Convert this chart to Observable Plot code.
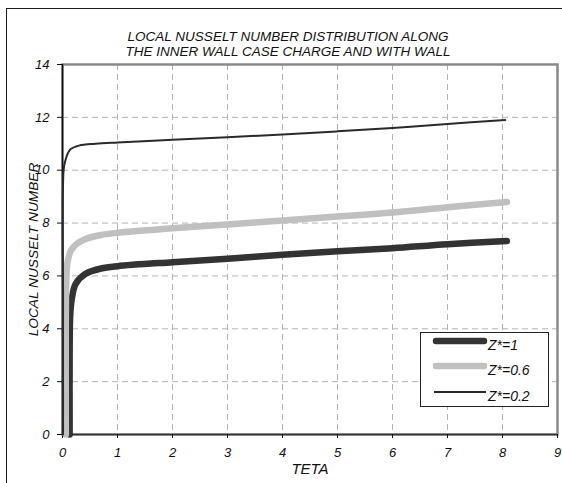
<!DOCTYPE html>
<html><head><meta charset="utf-8">
<script src="https://cdn.jsdelivr.net/npm/d3@7"></script>
<script src="https://cdn.jsdelivr.net/npm/@observablehq/plot@0.6"></script>
<style>
body{margin:0;background:#fff;overflow:hidden;}
#wrap{position:relative;width:562px;height:483px;overflow:hidden;font-family:"Liberation Sans",Arial,sans-serif;background:#fff;}
#frame{position:absolute;left:6px;top:8px;width:700px;height:700px;border:1px solid #1a1a1a;pointer-events:none;}
#chart{position:absolute;left:0;top:0;}
#legend{position:absolute;left:420px;top:332px;width:127px;height:73px;border:1px solid #222;background:#fff;}
#legend svg{position:absolute;left:0;top:0;}
</style></head>
<body>
<div id="wrap"><div id="frame"></div><div id="chart"></div><div id="legend"></div></div>
<script>
const titleLines = ["LOCAL NUSSELT NUMBER DISTRIBUTION ALONG", "THE INNER WALL CASE CHARGE AND WITH WALL"];
const xLabel = "TETA";
const yLabel = "LOCAL NUSSELT NUMBER";
const xTicks = [0,1,2,3,4,5,6,7,8,9];
const yTicks = [0,2,4,6,8,10,12,14];
const seriesNames = ["Z*=1", "Z*=0.6", "Z*=0.2"];
const seriesColors = ["#333333", "#c0c0c0", "#2a2a2a"];
const seriesWidths = [6.5, 6.5, 2];

const tetaZ1 = [0.13, 0.13, 0.14, 0.17, 0.24, 0.42, 0.7, 1, 2, 3, 4, 5, 6, 7, 8.08];
const nuZ1   = [0, 3.0, 4.5, 5.15, 5.7, 6.08, 6.28, 6.37, 6.52, 6.65, 6.8, 6.93, 7.05, 7.2, 7.32];

const tetaZ06 = [0.06, 0.06, 0.07, 0.09, 0.15, 0.25, 0.42, 0.7, 1, 2, 3, 4, 5, 6, 7, 8.08];
const nuZ06   = [0, 4.0, 5.9, 6.5, 6.95, 7.2, 7.4, 7.55, 7.63, 7.8, 7.95, 8.1, 8.25, 8.4, 8.6, 8.8];

const tetaZ02 = [0.01, 0.01, 0.02, 0.05, 0.1, 0.15, 0.3, 0.6, 1, 2, 3, 4, 5, 6, 7, 8.05];
const nuZ02   = [0, 5.0, 10.0, 10.35, 10.65, 10.8, 10.93, 11.0, 11.05, 11.15, 11.25, 11.35, 11.47, 11.6, 11.75, 11.9];

const tetas = [tetaZ1, tetaZ06, tetaZ02];
const nus = [nuZ1, nuZ06, nuZ02];
const rows = seriesNames.map((name, i) => tetas[i].map((t, j) => ({series: name, teta: t, nu: nus[i][j]})));

const font = '"Liberation Sans", Arial, sans-serif';

const lineMarks = rows.map((r, i) => Plot.line(r, {
  x: "teta", y: "nu", stroke: seriesColors[i], strokeWidth: seriesWidths[i],
  curve: "catmull-rom", strokeLinecap: "round", strokeLinejoin: "round"
}));

const chart = Plot.plot({
  width: 562, height: 483,
  marginLeft: 62, marginRight: 5, marginTop: 64, marginBottom: 49,
  x: {domain: [0, 9]},
  y: {domain: [0, 14]},
  style: {fontFamily: font, fontStyle: "italic", fontSize: "13px", background: "transparent", color: "#111", overflow: "visible"},
  marks: [
    Plot.gridX(xTicks.slice(1, -1), {stroke: "#b4b4b4", strokeOpacity: 1, strokeDasharray: "6,4"}),
    Plot.gridY(yTicks.slice(1, -1), {stroke: "#b4b4b4", strokeOpacity: 1, strokeDasharray: "6,4"}),
    Plot.frame({stroke: "#8a8a8a", strokeWidth: 2.5}),
    Plot.ruleX([0], {stroke: "#111", strokeWidth: 1.5}),
    Plot.ruleY([0], {stroke: "#333", strokeWidth: 1.5}),
    Plot.axisX({ticks: xTicks, tickSize: 4, tickPadding: 9, label: null, tickFormat: d => String(d), stroke: "#111", fontSize: 13}),
    Plot.axisY({ticks: yTicks, tickSize: 5, tickPadding: 8, label: null, tickFormat: d => String(d), stroke: "#111", fontSize: 13}),
    ...lineMarks,
    Plot.text([titleLines[0]], {text: d => d, frameAnchor: "top", dx: -22, dy: -33, fontSize: 13.5, fill: "#111"}),
    Plot.text([titleLines[1]], {text: d => d, frameAnchor: "top", dx: -22, dy: -18, fontSize: 13.5, fill: "#111"}),
    Plot.text([xLabel], {text: d => d, frameAnchor: "bottom", dy: 39, fontSize: 15, fill: "#111"}),
    Plot.text([yLabel], {text: d => d, frameAnchor: "left", textAnchor: "middle", dx: -29, rotate: -90, fontSize: 13.7, fill: "#111"})
  ]
});
document.getElementById("chart").appendChild(chart);

// legend
const ns = "http://www.w3.org/2000/svg";
const lsvg = document.createElementNS(ns, "svg");
lsvg.setAttribute("width", 127); lsvg.setAttribute("height", 73);
const rowY = [8, 33, 59];
seriesNames.forEach((name, i) => {
  const ln = document.createElementNS(ns, "line");
  ln.setAttribute("x1", i === 2 ? 13 : 15); ln.setAttribute("x2", i === 2 ? 65 : 63);
  ln.setAttribute("y1", rowY[i]); ln.setAttribute("y2", rowY[i]);
  ln.setAttribute("stroke", seriesColors[i]); ln.setAttribute("stroke-width", seriesWidths[i]);
  ln.setAttribute("stroke-linecap", i === 2 ? "butt" : "round");
  lsvg.appendChild(ln);
  const tx = document.createElementNS(ns, "text");
  tx.setAttribute("x", 67); tx.setAttribute("y", rowY[i] + 9);
  tx.setAttribute("font-family", font); tx.setAttribute("font-style", "italic");
  tx.setAttribute("font-size", 14); tx.setAttribute("fill", "#111");
  tx.textContent = name;
  lsvg.appendChild(tx);
});
document.getElementById("legend").appendChild(lsvg);
</script>
</body></html>
